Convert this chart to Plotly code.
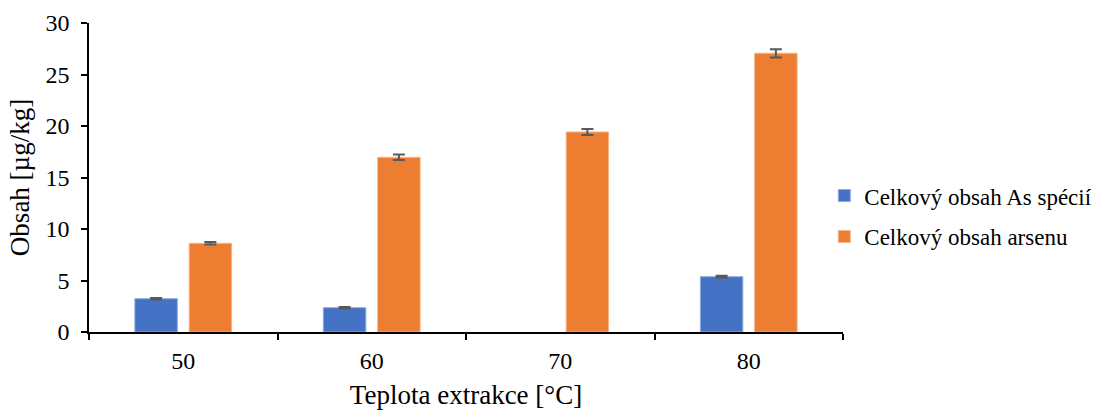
import plotly.graph_objects as go

# Extraction temperature categories (°C)
teploty = ["50", "60", "70", "80"]

# Sum of As species and total arsenic content [µg/kg]
obsah_specii = [3.23, 2.36, None, 5.37]
obsah_specii_err = [0.07, 0.06, 0, 0.08]
obsah_arsenu = [8.61, 16.96, 19.42, 27.06]
obsah_arsenu_err = [0.12, 0.27, 0.29, 0.40]

FONT = "Liberation Serif"
ERR_COLOR = "#595959"

fig = go.Figure()
fig.add_trace(go.Bar(
    x=teploty, y=obsah_specii, name="Celkový obsah As spécií",
    legendgroup="a",
    marker=dict(color="#4472C4", line=dict(color="#8eaadb", width=1)),
    error_y=dict(type="data", array=obsah_specii_err, color=ERR_COLOR,
                 thickness=2, width=6),
))
fig.add_trace(go.Bar(
    x=teploty, y=obsah_arsenu, name="Celkový obsah arsenu",
    legendgroup="b",
    marker=dict(color="#ED7D31", line=dict(color="#f5b48a", width=1)),
    error_y=dict(type="data", array=obsah_arsenu_err, color=ERR_COLOR,
                 thickness=2, width=6),
))

fig.update_layout(
    width=1109, height=410,
    margin=dict(l=89, r=257, t=23, b=78),
    paper_bgcolor="white", plot_bgcolor="white",
    font=dict(family=FONT, size=24, color="black"),
    barmode="group", bargap=0.424, bargroupgap=0.218,
    showlegend=True,
    legend=dict(x=0.9752, xanchor="left", y=0.375, yanchor="middle",
                font=dict(family=FONT, size=23), tracegroupgap=8,
                entrywidth=180, bgcolor="rgba(0,0,0,0)"),
)
fig.update_xaxes(
    type="category", showline=True, linecolor="black", linewidth=2,
    ticks="outside", tickson="boundaries", ticklen=6, tickwidth=1.5,
    tickcolor="black", showgrid=False, ticklabelstandoff=6, automargin=False,
    title=dict(text="Teplota extrakce [°C]", font=dict(family=FONT, size=27),
               standoff=14),
)
fig.update_yaxes(
    range=[0, 30], dtick=5, showline=True, linecolor="black", linewidth=1.5,
    ticks="outside", ticklen=6, tickwidth=1.5, tickcolor="black",
    showgrid=False, zeroline=False, ticklabelstandoff=7, automargin=False,
    title=dict(text="Obsah [µg/kg]", font=dict(family=FONT, size=27),
               standoff=8),
)

fig.write_html("out.html")
